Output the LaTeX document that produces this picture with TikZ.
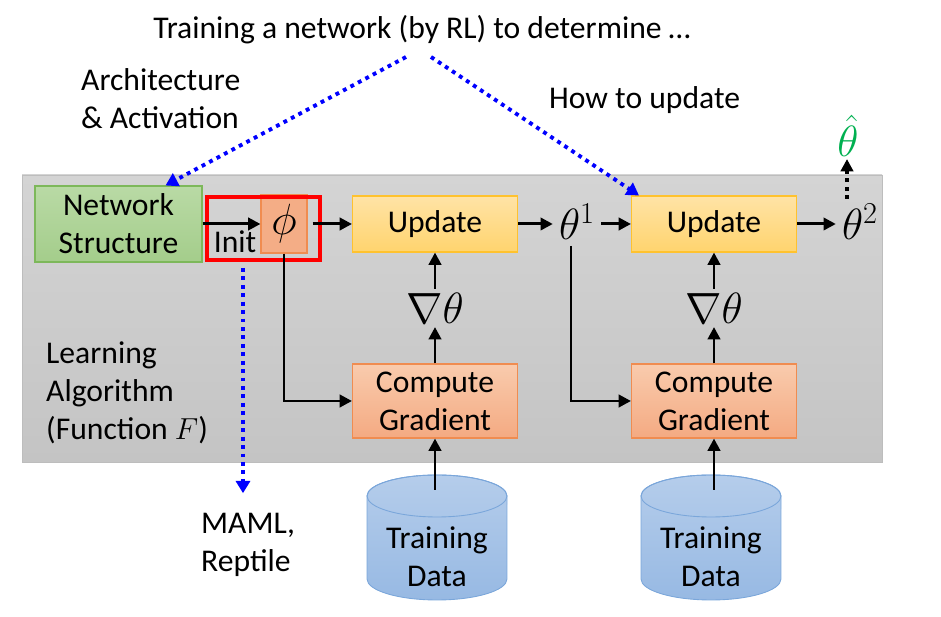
\documentclass[tikz,border=0pt]{standalone}
\usepackage{fontspec}
\setmainfont{Carlito}
\usetikzlibrary{arrows.meta}
\definecolor{bgtop}{HTML}{D4D4D4}
\definecolor{bgbot}{HTML}{C4C4C4}
\definecolor{bgline}{HTML}{BDBDBD}
\definecolor{nstop}{HTML}{B9DAA5}
\definecolor{nsbot}{HTML}{A4CD8B}
\definecolor{nsline}{HTML}{7DB85A}
\definecolor{updtop}{HTML}{FFE3A6}
\definecolor{updbot}{HTML}{FFD46E}
\definecolor{updline}{HTML}{FFC22E}
\definecolor{gradtop}{HTML}{F9CBAD}
\definecolor{gradbot}{HTML}{F4AA82}
\definecolor{gradline}{HTML}{F08C50}
\definecolor{cyltop}{HTML}{B5CDEB}
\definecolor{cylbot}{HTML}{97B9E3}
\definecolor{cylline}{HTML}{7AA6DA}
\definecolor{thgreen}{HTML}{00B050}
% data cylinder centred at x = #1 (picture units)
\def\drawcyl(#1){%
	\draw[draw=cylline, line width=0.5pt, top color=cyltop, bottom color=cylbot] ({#1-70},496) -- ({#1-70},579) arc (180:360:1.4cm and 0.42cm) -- ({#1+70},496) arc (0:180:1.4cm and 0.42cm) -- cycle;
	\draw[draw=cylline, line width=0.5pt] (#1,496) ellipse (1.4cm and 0.42cm);}

\begin{document}
\begin{tikzpicture}[x=0.02cm, y=-0.02cm,
	font=\fontsize{18}{21.5}\selectfont,
	mathlbl/.style={font=\fontsize{23}{26}\selectfont},
	arr/.style={-{Triangle[length=7pt,width=7pt]}, line width=1.7pt},
	bluearr/.style={-{Triangle[length=7pt,width=8pt]}, blue, line width=2.2pt, dash pattern=on 2.2pt off 2.6pt},
	dotarr/.style={-{Triangle[length=7pt,width=7pt]}, line width=2.2pt, dash pattern=on 2.2pt off 2.6pt},
	blockbox/.style={draw, align=center, minimum width=3.3cm, line width=0.6pt},
	updbox/.style={blockbox, minimum height=1.12cm, draw=updline, top color=updtop, bottom color=updbot},
	gradbox/.style={blockbox, minimum height=1.48cm, draw=gradline, top color=gradtop, bottom color=gradbot}]
	\useasboundingbox (0,0) rectangle (941,617);
	
	% learning algorithm area
	\draw[draw=bgline, top color=bgtop, bottom color=bgbot] (22,175) rectangle (882,462);
	
	\node (title) at (422,30) {Training a network (by RL) to determine …};
	\node[anchor=west, align=left] (arch) at (75,99) {Architecture\\\& Activation};
	\node[anchor=west] (howto) at (543,100) {How to update};
	\node[anchor=west, align=left] (learn) at (40,393) {Learning\\Algorithm\\(Function $F$)};
	\node[anchor=west, align=left] (maml) at (195,545) {MAML,\\Reptile};
	
	\node[blockbox, minimum width=3.34cm, minimum height=1.52cm, draw=nsline, top color=nstop, bottom color=nsbot] (ns) at (118.5,224) {Network\\Structure};
	\node (init) at (235,242) {Init};
	\node[draw=gradline, line width=0.6pt, fill=gradbot!90!gradtop, minimum width=0.92cm, minimum height=1.16cm, inner sep=0pt, mathlbl] (phi) at (284,224) {$\phi$};
	\draw[red, line width=2.6pt] (207,197) rectangle (320,260);
	
	\node[updbox] (up1) at (435,224) {Update};
	\node[updbox] (up2) at (714,224) {Update};
	\node[gradbox] (cg1) at (435,401) {Compute\\Gradient};
	\node[gradbox] (cg2) at (714,401) {Compute\\Gradient};
	
	\drawcyl(437)
	\drawcyl(711)
	\node[align=center] (td1) at (437,557) {Training\\Data};
	\node[align=center] (td2) at (711,557) {Training\\Data};
	
	\node[mathlbl] (th1) at (577,222) {$\theta^1$};
	\node[mathlbl] (th2) at (860,222) {$\theta^2$};
	\node[mathlbl, text=thgreen, inner sep=1pt] (thhat) at (848,136) {$\hat{\theta}$};
	\node[mathlbl, inner sep=2pt] (nab1) at (435,308) {$\nabla\theta$};
	\node[mathlbl, inner sep=2pt] (nab2) at (714,308) {$\nabla\theta$};
	
	\coordinate (apexL) at (406,57);
	\coordinate (apexR) at (431,57);
	\coordinate (phiout) at (243,268);
	\coordinate (th2top) at (847,199);
	\coordinate (td1top) at (435,490);
	\coordinate (td2top) at (714,490);
	
	% flow
	\draw[arr] (ns.east) -- (phi.west);
	\draw[arr, shorten <=0.1cm] (phi.east) -- (up1.west);
	\draw[arr] (up1) -- (th1.west |- up1.east);
	\draw[arr] (th1.east |- up2.west) -- (up2);
	\draw[arr] (up2) -- (th2.west |- up2.east);
	\draw[arr] (phi.south) |- (cg1.west);
	\draw[arr] ([xshift=-0.12cm]th1.south) |- (cg2.west);
	\draw[arr] (cg1) -- (nab1);
	\draw[arr] (nab1) -- (up1);
	\draw[arr] (cg2) -- (nab2);
	\draw[arr] (nab2) -- (up2);
	\draw[arr] (td1top) -- (cg1.south);
	\draw[arr] (td2top) -- (cg2.south);
	
	% what the RL network decides
	\draw[bluearr] (apexL) -- ([xshift=-0.74cm]ns.north east);
	\draw[bluearr] (apexR) -- ([xshift=0.16cm]up2.north west);
	\draw[bluearr, shorten >=0.28cm] (phiout) -- (phiout |- maml.north);
	\draw[dotarr] (th2top) -- (thhat.south -| th2top);
\end{tikzpicture}
\end{document}
